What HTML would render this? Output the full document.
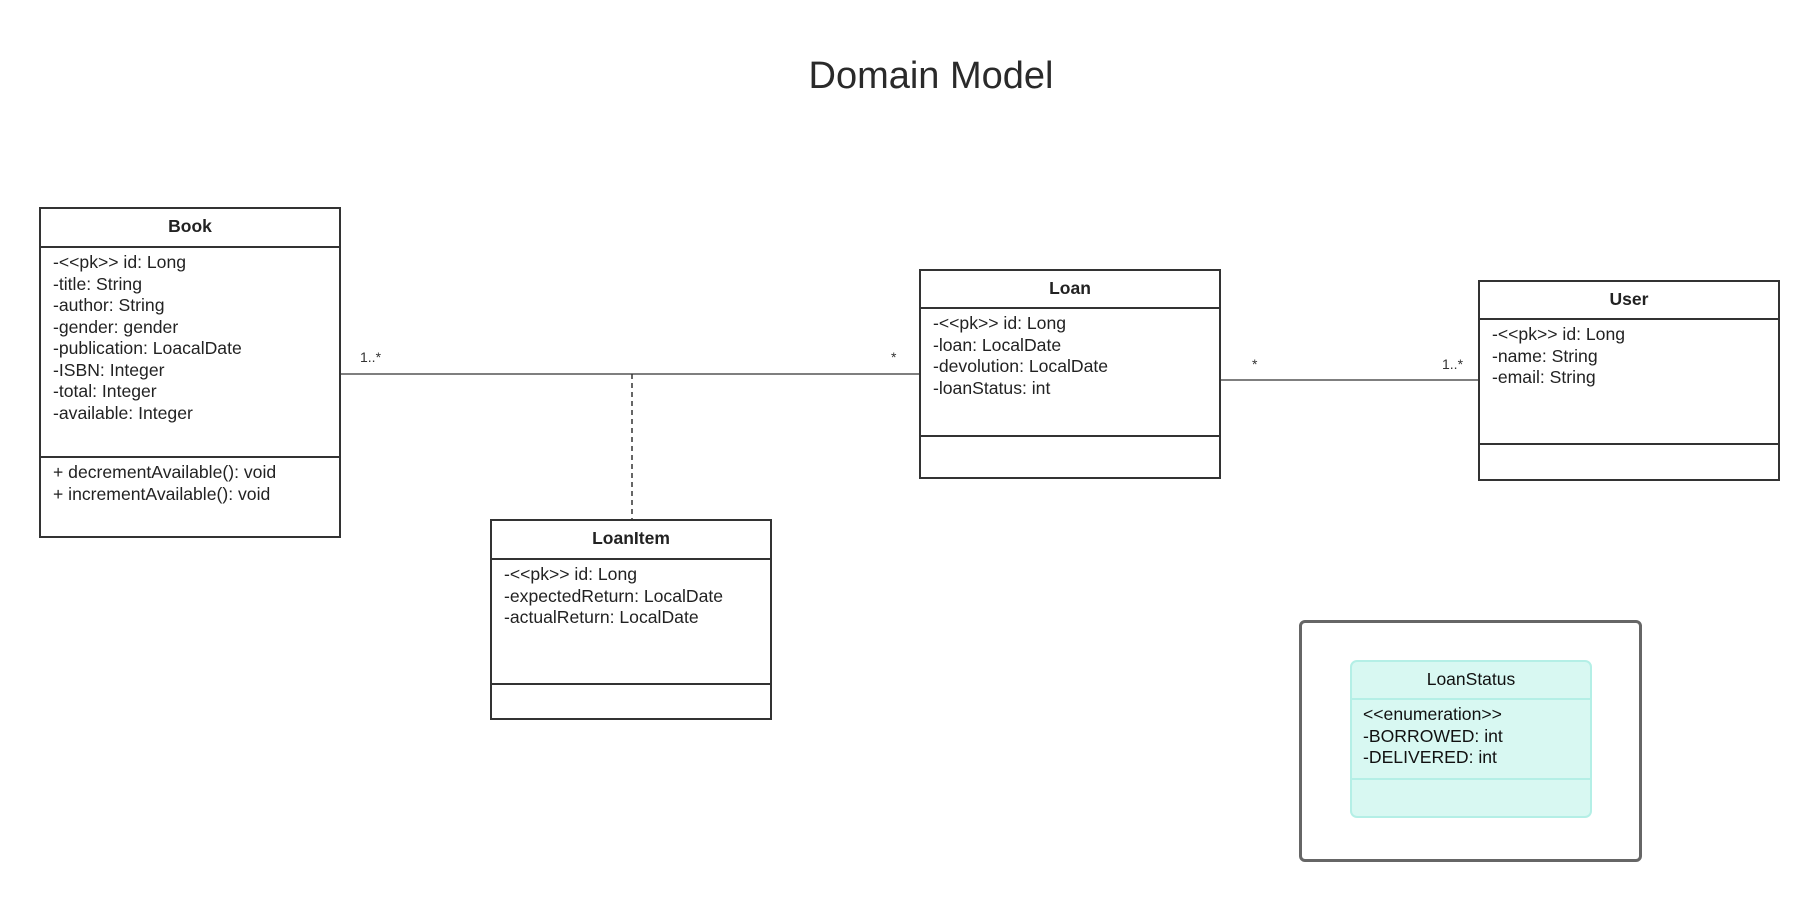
<!DOCTYPE html>
<html><head><meta charset="utf-8"><style>
body{margin:0;width:1820px;height:900px;background:#fff;position:relative;overflow:hidden;font-family:"Liberation Sans",sans-serif;color:#222}
.box{position:absolute;border:2px solid #333;background:#fff;box-sizing:border-box}
.hd{position:absolute;left:0;right:0;top:0;text-align:center;font-weight:bold;font-size:17.5px;border-bottom:2px solid #333;box-sizing:border-box;padding-top:7px}
.at{position:absolute;left:0;right:0;box-sizing:border-box;padding-left:12px;padding-top:4px;font-size:17.6px;line-height:21.5px;border-bottom:2px solid #333}
.t{position:absolute;font-size:14px;color:#333}
</style></head><body>
<div style="position:absolute;left:0;width:1862px;top:55px;text-align:center;font-size:38px;color:#2a2a2a">Domain Model</div>
<svg width="1820" height="900" style="position:absolute;left:0;top:0">
<line x1="340" y1="374" x2="922" y2="374" stroke="#333" stroke-width="1.3"/>
<line x1="632" y1="374" x2="632" y2="520" stroke="#333" stroke-width="1.5" stroke-dasharray="5,4"/>
<line x1="1220" y1="380" x2="1479" y2="380" stroke="#333" stroke-width="1.3"/>
</svg>
<div class="t" style="left:360px;top:349px">1..*</div>
<div class="t" style="left:891px;top:349px">*</div>
<div class="t" style="left:1252px;top:356px">*</div>
<div class="t" style="left:1442px;top:356px">1..*</div>

<div class="box" style="left:39px;top:207px;width:302px;height:331px">
<div class="hd" style="height:39px">Book</div>
<div class="at" style="top:39px;height:210px">-&lt;&lt;pk&gt;&gt; id: Long<br>-title: String<br>-author: String<br>-gender: gender<br>-publication: LoacalDate<br>-ISBN: Integer<br>-total: Integer<br>-available: Integer</div>
<div class="at" style="top:249px;border:none">+ decrementAvailable(): void<br>+ incrementAvailable(): void</div>
</div>

<div class="box" style="left:919px;top:269px;width:302px;height:210px">
<div class="hd" style="height:38px">Loan</div>
<div class="at" style="top:38px;height:128px">-&lt;&lt;pk&gt;&gt; id: Long<br>-loan: LocalDate<br>-devolution: LocalDate<br>-loanStatus: int</div>
</div>

<div class="box" style="left:1478px;top:280px;width:302px;height:201px">
<div class="hd" style="height:38px">User</div>
<div class="at" style="top:38px;height:125px">-&lt;&lt;pk&gt;&gt; id: Long<br>-name: String<br>-email: String</div>
</div>

<div class="box" style="left:490px;top:519px;width:282px;height:201px">
<div class="hd" style="height:39px">LoanItem</div>
<div class="at" style="top:39px;height:125px">-&lt;&lt;pk&gt;&gt; id: Long<br>-expectedReturn: LocalDate<br>-actualReturn: LocalDate</div>
</div>

<div style="position:absolute;left:1299px;top:620px;width:343px;height:242px;border:3px solid #666;border-radius:6px;box-sizing:border-box"></div>
<div style="position:absolute;left:1350px;top:660px;width:242px;height:158px;border:2px solid #b4efe6;background:#d8f8f2;border-radius:7px;box-sizing:border-box;color:#111">
<div style="height:38px;border-bottom:2px solid #b4efe6;box-sizing:border-box;text-align:center;font-size:17.5px;padding-top:7px">LoanStatus</div>
<div style="height:80px;border-bottom:2px solid #b4efe6;box-sizing:border-box;padding:4px 0 0 11px;font-size:17.6px;line-height:21.5px">&lt;&lt;enumeration&gt;&gt;<br>-BORROWED: int<br>-DELIVERED: int</div>
</div>
</body></html>
